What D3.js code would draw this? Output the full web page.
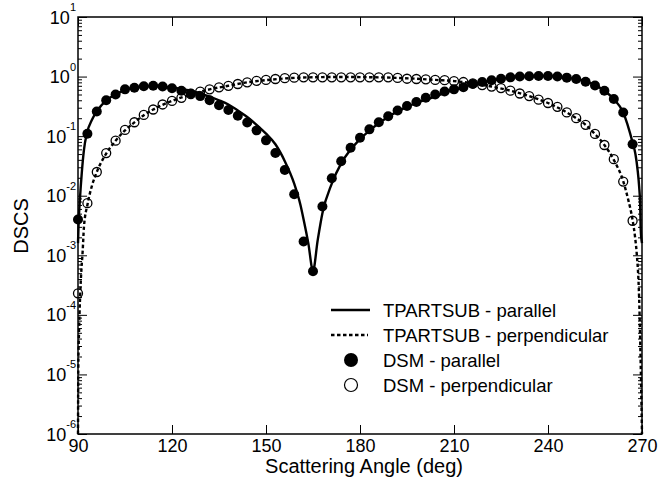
<!DOCTYPE html>
<html>
<head>
<meta charset="utf-8">
<script src="https://cdn.jsdelivr.net/npm/d3@7"></script>
<style>
  body { margin: 0; background: #fff; }
  text { font-family: "Liberation Sans", Arial, sans-serif; fill: #000; }
</style>
</head>
<body>
<svg id="chart" width="658" height="487"></svg>
<script>
// DSM sample angles (deg)
const dsmAngles = [90, 93, 96, 99, 102, 105, 108, 111, 114, 117, 120, 123, 126, 129, 132, 135, 138, 141, 144, 147,
  150, 153, 156, 159, 162, 165, 168, 171, 174, 177, 180, 183, 186, 189, 192, 195, 198, 201, 204, 207,
  210, 213, 216, 219, 222, 225, 228, 231, 234, 237, 240, 243, 246, 249, 252, 255, 258, 261, 264, 267];

// DSM - parallel (filled circles)
const dsmParallel = [4e-3, 0.11, 0.26, 0.40, 0.50, 0.61, 0.65, 0.69, 0.70, 0.68, 0.635, 0.58, 0.52, 0.47, 0.40, 0.33, 0.275, 0.22, 0.17, 0.125,
  0.085, 0.052, 0.027, 0.0106, 1.7e-3, 5.4e-4, 6.6e-3, 0.0196, 0.038, 0.064, 0.094, 0.13, 0.171, 0.216, 0.27, 0.32, 0.375, 0.44, 0.50, 0.56,
  0.61, 0.66, 0.75, 0.81, 0.87, 0.92, 0.97, 1.0, 1.01, 1.02, 1.02, 1.0, 0.96, 0.91, 0.82, 0.71, 0.58, 0.42, 0.25, 0.073];

// DSM - perpendicular (open circles)
const dsmPerpendicular = [2.3e-4, 7.5e-3, 0.025, 0.052, 0.084, 0.127, 0.171, 0.227, 0.28, 0.34, 0.39, 0.44, 0.51, 0.56, 0.61, 0.66, 0.70, 0.75, 0.80, 0.85,
  0.88, 0.91, 0.94, 0.96, 0.97, 0.97, 0.97, 0.97, 0.97, 0.97, 0.97, 0.97, 0.97, 0.97, 0.95, 0.92, 0.91, 0.90, 0.88, 0.87,
  0.84, 0.81, 0.77, 0.72, 0.68, 0.64, 0.58, 0.52, 0.47, 0.41, 0.36, 0.31, 0.25, 0.20, 0.155, 0.109, 0.071, 0.041, 0.0173, 3.8e-3];

// TPARTSUB - parallel (solid line), [angle, value]
const tpartParallel = [
  [90, 1.6e-3], [90.2, 3.5e-3], [90.6, 8.5e-3], [91.2, 0.024], [91.9, 0.059], [92.8, 0.11], [94.5, 0.19],
  [96, 0.26], [99, 0.40], [102, 0.50], [105, 0.60], [108, 0.65], [111, 0.68], [114, 0.69], [117, 0.68],
  [120, 0.66], [123, 0.62], [126, 0.58], [129, 0.52], [132, 0.46], [135, 0.40], [138, 0.34], [141, 0.27],
  [144, 0.21], [147, 0.155], [150, 0.11], [153, 0.073], [156, 0.038], [159, 0.016], [161, 7e-3], [162, 4e-3],
  [163.5, 1.6e-3], [165, 5.5e-4], [166.5, 1.8e-3], [168, 5.1e-3], [171, 0.016], [174, 0.035], [177, 0.059],
  [180, 0.089], [183, 0.124], [186, 0.165], [189, 0.21], [192, 0.26], [195, 0.31], [198, 0.36], [201, 0.41],
  [204, 0.46], [207, 0.53], [210, 0.60], [213, 0.66], [216, 0.74], [219, 0.80], [222, 0.86], [225, 0.92],
  [228, 0.96], [231, 0.99], [234, 1.01], [237, 1.02], [240, 1.02], [243, 1.0], [246, 0.96], [249, 0.91],
  [252, 0.83], [255, 0.72], [258, 0.58], [261, 0.42], [264, 0.25], [267, 0.078], [267.9, 0.05],
  [268.6, 0.027], [269.1, 0.014], [269.4, 7.5e-3], [269.6, 2.7e-3], [270, 1.6e-3]
];

// TPARTSUB - perpendicular (dashed line), [angle, value]
const tpartPerpendicular = [
  [90, 1e-6], [90.1, 1.35e-5], [90.32, 5e-5], [90.64, 1.8e-4], [90.96, 4.4e-4], [91.5, 1.2e-3], [91.9, 3e-3],
  [93, 7e-3], [94.5, 0.015], [96, 0.025], [99, 0.051], [102, 0.084], [105, 0.125], [108, 0.17], [111, 0.225],
  [114, 0.28], [117, 0.335], [120, 0.39], [126, 0.50], [132, 0.61], [138, 0.70], [144, 0.80], [150, 0.87],
  [156, 0.93], [162, 0.965], [168, 0.98], [174, 0.985], [180, 0.98], [186, 0.97], [192, 0.95], [198, 0.92],
  [204, 0.88], [210, 0.84], [216, 0.77], [222, 0.68], [228, 0.58], [234, 0.47], [240, 0.36], [246, 0.25],
  [249, 0.20], [252, 0.155], [255, 0.108], [258, 0.071], [261, 0.040], [264, 0.0175], [265.5, 9e-3],
  [267, 3.9e-3], [267.8, 2.0e-3], [268.3, 1.1e-3], [269.1, 1.8e-4], [269.6, 1.35e-5], [270, 1e-6]
];

const xTicks = [90, 120, 150, 180, 210, 240, 270];
const yExponents = [-6, -5, -4, -3, -2, -1, 0, 1];
const legendLabels = ['TPARTSUB - parallel', 'TPARTSUB - perpendicular', 'DSM - parallel', 'DSM - perpendicular'];

const plot = { left: 78, right: 642, top: 17, bottom: 434 };
const svg = d3.select('#chart');

const x = d3.scaleLinear().domain([90, 270]).range([plot.left, plot.right]);
const y = d3.scaleLog().domain([1e-6, 10]).range([plot.bottom, plot.top]);

const majorY = yExponents.map(e => Math.pow(10, e));
const minorY = [];
yExponents.slice(0, -1).forEach(e => {
  for (let k = 2; k <= 9; k++) minorY.push(k * Math.pow(10, e));
});

// Axes (ticks point inwards)
function styleAxis(g) {
  g.select('.domain').remove();
  g.selectAll('.tick line').attr('stroke', '#000').attr('stroke-width', 1);
}

svg.append('g')
  .attr('transform', `translate(0,${plot.bottom})`)
  .call(d3.axisBottom(x).tickValues(xTicks).tickSize(-9).tickPadding(5).tickFormat(d3.format('d')))
  .call(styleAxis)
  .call(g => g.selectAll('.tick text').attr('font-size', 18).attr('font-family', '"Liberation Sans", Arial, sans-serif'));

svg.append('g')
  .attr('transform', `translate(0,${plot.top})`)
  .call(d3.axisTop(x).tickValues(xTicks).tickSize(-9).tickFormat(''))
  .call(styleAxis);

[[d3.axisLeft, plot.left], [d3.axisRight, plot.right]].forEach(([axisFn, xpos]) => {
  svg.append('g')
    .attr('transform', `translate(${xpos},0)`)
    .call(axisFn(y).tickValues(majorY).tickSize(-9).tickFormat(''))
    .call(styleAxis);
  svg.append('g')
    .attr('transform', `translate(${xpos},0)`)
    .call(axisFn(y).tickValues(minorY).tickSize(-4).tickFormat(''))
    .call(styleAxis);
});

// Y tick labels: 10 with superscript exponent
const yLabels = svg.append('g').selectAll('text')
  .data(yExponents)
  .join('text')
  .attr('x', plot.left - 2)
  .attr('y', d => y(Math.pow(10, d)) + 6.5)
  .attr('text-anchor', 'end')
  .attr('font-size', 18);
yLabels.append('tspan').text('10');
yLabels.append('tspan').attr('dy', -12.5).attr('font-size', 11).text(d => d);

// Curves
const line = d3.line()
  .x(d => x(d[0]))
  .y(d => y(d[1]))
  .curve(d3.curveMonotoneX);

svg.append('path')
  .datum(tpartParallel)
  .attr('fill', 'none')
  .attr('stroke', '#000')
  .attr('stroke-width', 2.4)
  .attr('d', line);

svg.append('path')
  .datum(tpartPerpendicular)
  .attr('fill', 'none')
  .attr('stroke', '#000')
  .attr('stroke-width', 2.4)
  .attr('stroke-dasharray', '3.5,2.5')
  .attr('d', line);

// DSM markers
svg.append('g').selectAll('circle')
  .data(dsmAngles.map((a, i) => [a, dsmParallel[i]]))
  .join('circle')
  .attr('cx', d => x(d[0]))
  .attr('cy', d => y(d[1]))
  .attr('r', 5)
  .attr('fill', '#000');

svg.append('g').selectAll('circle')
  .data(dsmAngles.map((a, i) => [a, dsmPerpendicular[i]]))
  .join('circle')
  .attr('cx', d => x(d[0]))
  .attr('cy', d => y(d[1]))
  .attr('r', 4.5)
  .attr('fill', 'none')
  .attr('stroke', '#000')
  .attr('stroke-width', 1.3);

// Frame
svg.append('rect')
  .attr('x', plot.left)
  .attr('y', plot.top)
  .attr('width', plot.right - plot.left)
  .attr('height', plot.bottom - plot.top)
  .attr('fill', 'none')
  .attr('stroke', '#000')
  .attr('stroke-width', 1.5);

// Axis titles
svg.append('text')
  .attr('x', 364)
  .attr('y', 473)
  .attr('text-anchor', 'middle')
  .attr('font-size', 20)
  .text('Scattering Angle (deg)');

svg.append('text')
  .attr('transform', 'translate(28,226) rotate(-90)')
  .attr('text-anchor', 'middle')
  .attr('font-size', 20)
  .text('DSCS');

// Legend
const legend = svg.append('g');
const rowY = i => 310 + i * 25;

legend.selectAll('text')
  .data(legendLabels)
  .join('text')
  .attr('x', 383)
  .attr('y', (d, i) => rowY(i) + 6.5)
  .attr('font-size', 18.5)
  .text(d => d);

legend.append('line')
  .attr('x1', 331).attr('x2', 370)
  .attr('y1', rowY(0)).attr('y2', rowY(0))
  .attr('stroke', '#000').attr('stroke-width', 2.4);

legend.append('line')
  .attr('x1', 331).attr('x2', 368)
  .attr('y1', rowY(1)).attr('y2', rowY(1))
  .attr('stroke', '#000').attr('stroke-width', 2.4)
  .attr('stroke-dasharray', '3.5,2.5');

legend.append('circle')
  .attr('cx', 351).attr('cy', rowY(2)).attr('r', 7)
  .attr('fill', '#000');

legend.append('circle')
  .attr('cx', 351).attr('cy', rowY(3)).attr('r', 6.5)
  .attr('fill', 'none').attr('stroke', '#000').attr('stroke-width', 1.2);
</script>
</body>
</html>
